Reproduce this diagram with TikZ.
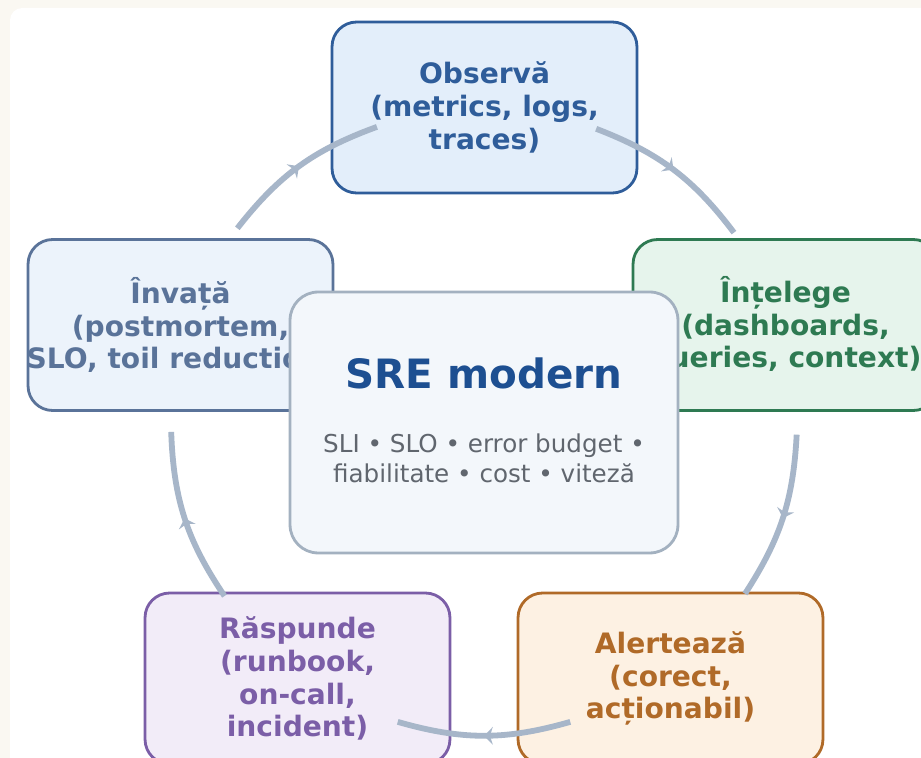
\documentclass[tikz,border=0pt]{standalone}
\usepackage{fontspec}
\setmainfont{DejaVu Sans}
\usetikzlibrary{arrows.meta, decorations.markings, calc, positioning}

\definecolor{pagebg}{HTML}{FAF8F2}
\definecolor{obsline}{HTML}{2F5D9A}
\definecolor{obsfill}{HTML}{E3EEFA}
\definecolor{invline}{HTML}{5A7399}
\definecolor{invfill}{HTML}{ECF3FB}
\definecolor{intline}{HTML}{2E7A52}
\definecolor{intfill}{HTML}{E6F4EC}
\definecolor{aleline}{HTML}{B06A28}
\definecolor{alefill}{HTML}{FDF1E3}
\definecolor{rasline}{HTML}{7B5EA7}
\definecolor{rasfill}{HTML}{F2ECF8}
\definecolor{hubline}{HTML}{A3B1C0}
\definecolor{hubfill}{HTML}{F3F7FB}
\definecolor{hubtext}{HTML}{1D4F91}
\definecolor{subtext}{HTML}{60666E}
\definecolor{arcgray}{HTML}{A7B6C9}

\tikzset{
  stage/.style={draw, rounded corners=14pt, line width=1.6pt,
    minimum width=6.1cm, minimum height=3.42cm, align=center,
    font=\bfseries\fontsize{16}{18.7}\selectfont},
  stagelabel/.style={align=center, font=\bfseries\fontsize{16}{18.7}\selectfont},
  flow/.style={line width=3.3pt, arcgray, postaction={decorate},
    decoration={markings, mark=at position 0.5 with {\arrow{Stealth[length=5pt,width=10pt]}}}},
}

\begin{document}
\begin{tikzpicture}[x=0.02cm, y=0.02cm]
\useasboundingbox (0,0) rectangle (921,758);
\clip (0,0) rectangle (921,758);
\fill[pagebg] (0,0) rectangle (921,758);
\fill[white, rounded corners=7pt] (10,-20) rectangle (960,750);

% five stages round the hub
\node[stage, draw=obsline, fill=obsfill, text=obsline] (obs) at (484.5,650.5) {Observă\\(metrics, logs,\\traces)};
\node[stage, draw=invline, fill=invfill] (inv) at (180.5,433) {};
\node[stagelabel, text=invline] (invtext) at (inv.center) {Învață\\(postmortem,\\SLO, toil reduction)};
\node[stage, draw=intline, fill=intfill] (int) at (785.5,433) {};
\node[stagelabel, text=intline] (inttext) at (int.center) {Înțelege\\(dashboards,\\queries, context)};
\node[stage, draw=rasline, fill=rasfill, text=rasline] (ras) at (297.5,79.5) {Răspunde\\(runbook,\\on-call,\\incident)};
\node[stage, draw=aleline, fill=alefill, text=aleline] (ale) at (670.5,79.5) {Alertează\\(corect,\\acționabil)};

% hub
\node[draw=hubline, fill=hubfill, line width=1.6pt, rounded corners=16pt,
  minimum width=7.76cm, minimum height=5.22cm] (hub) at (484,335.5) {};
\node[text=hubtext, font=\bfseries\fontsize{23}{27}\selectfont] (hubtitle) at (484,385) {SRE modern};
\node[text=subtext, align=center, font=\fontsize{14}{17}\selectfont] (hubsub) at (484,300)
  {SLI • SLO • error budget •\\fiabilitate • cost • viteză};

% cycle arcs
\coordinate (ctr) at (484,337);
\coordinate (f1a) at ($(ctr)+(142:313)$);
\coordinate (f1b) at ($(ctr)+(110:313)$);
\coordinate (f2a) at ($(ctr)+(69:313)$);
\coordinate (f2b) at ($(ctr)+(37:313)$);
\coordinate (f3a) at ($(ctr)+(-2.5:313)$);
\coordinate (f3b) at ($(ctr)+(-33.5:313)$);
\coordinate (f4a) at ($(ctr)+(-74:313)$);
\coordinate (f4b) at ($(ctr)+(-106:313)$);
\coordinate (f5a) at ($(ctr)+(-146:313)$);
\coordinate (f5b) at ($(ctr)+(-178:313)$);

\draw[flow] (f1a) to[bend left=16] (f1b);
\draw[flow] (f2a) to[bend left=16] (f2b);
\draw[flow] (f3a) to[bend left=15] (f3b);
\draw[flow] (f4a) to[bend left=16] (f4b);
\draw[flow] (f5a) to[bend left=16] (f5b);
\end{tikzpicture}
\end{document}
